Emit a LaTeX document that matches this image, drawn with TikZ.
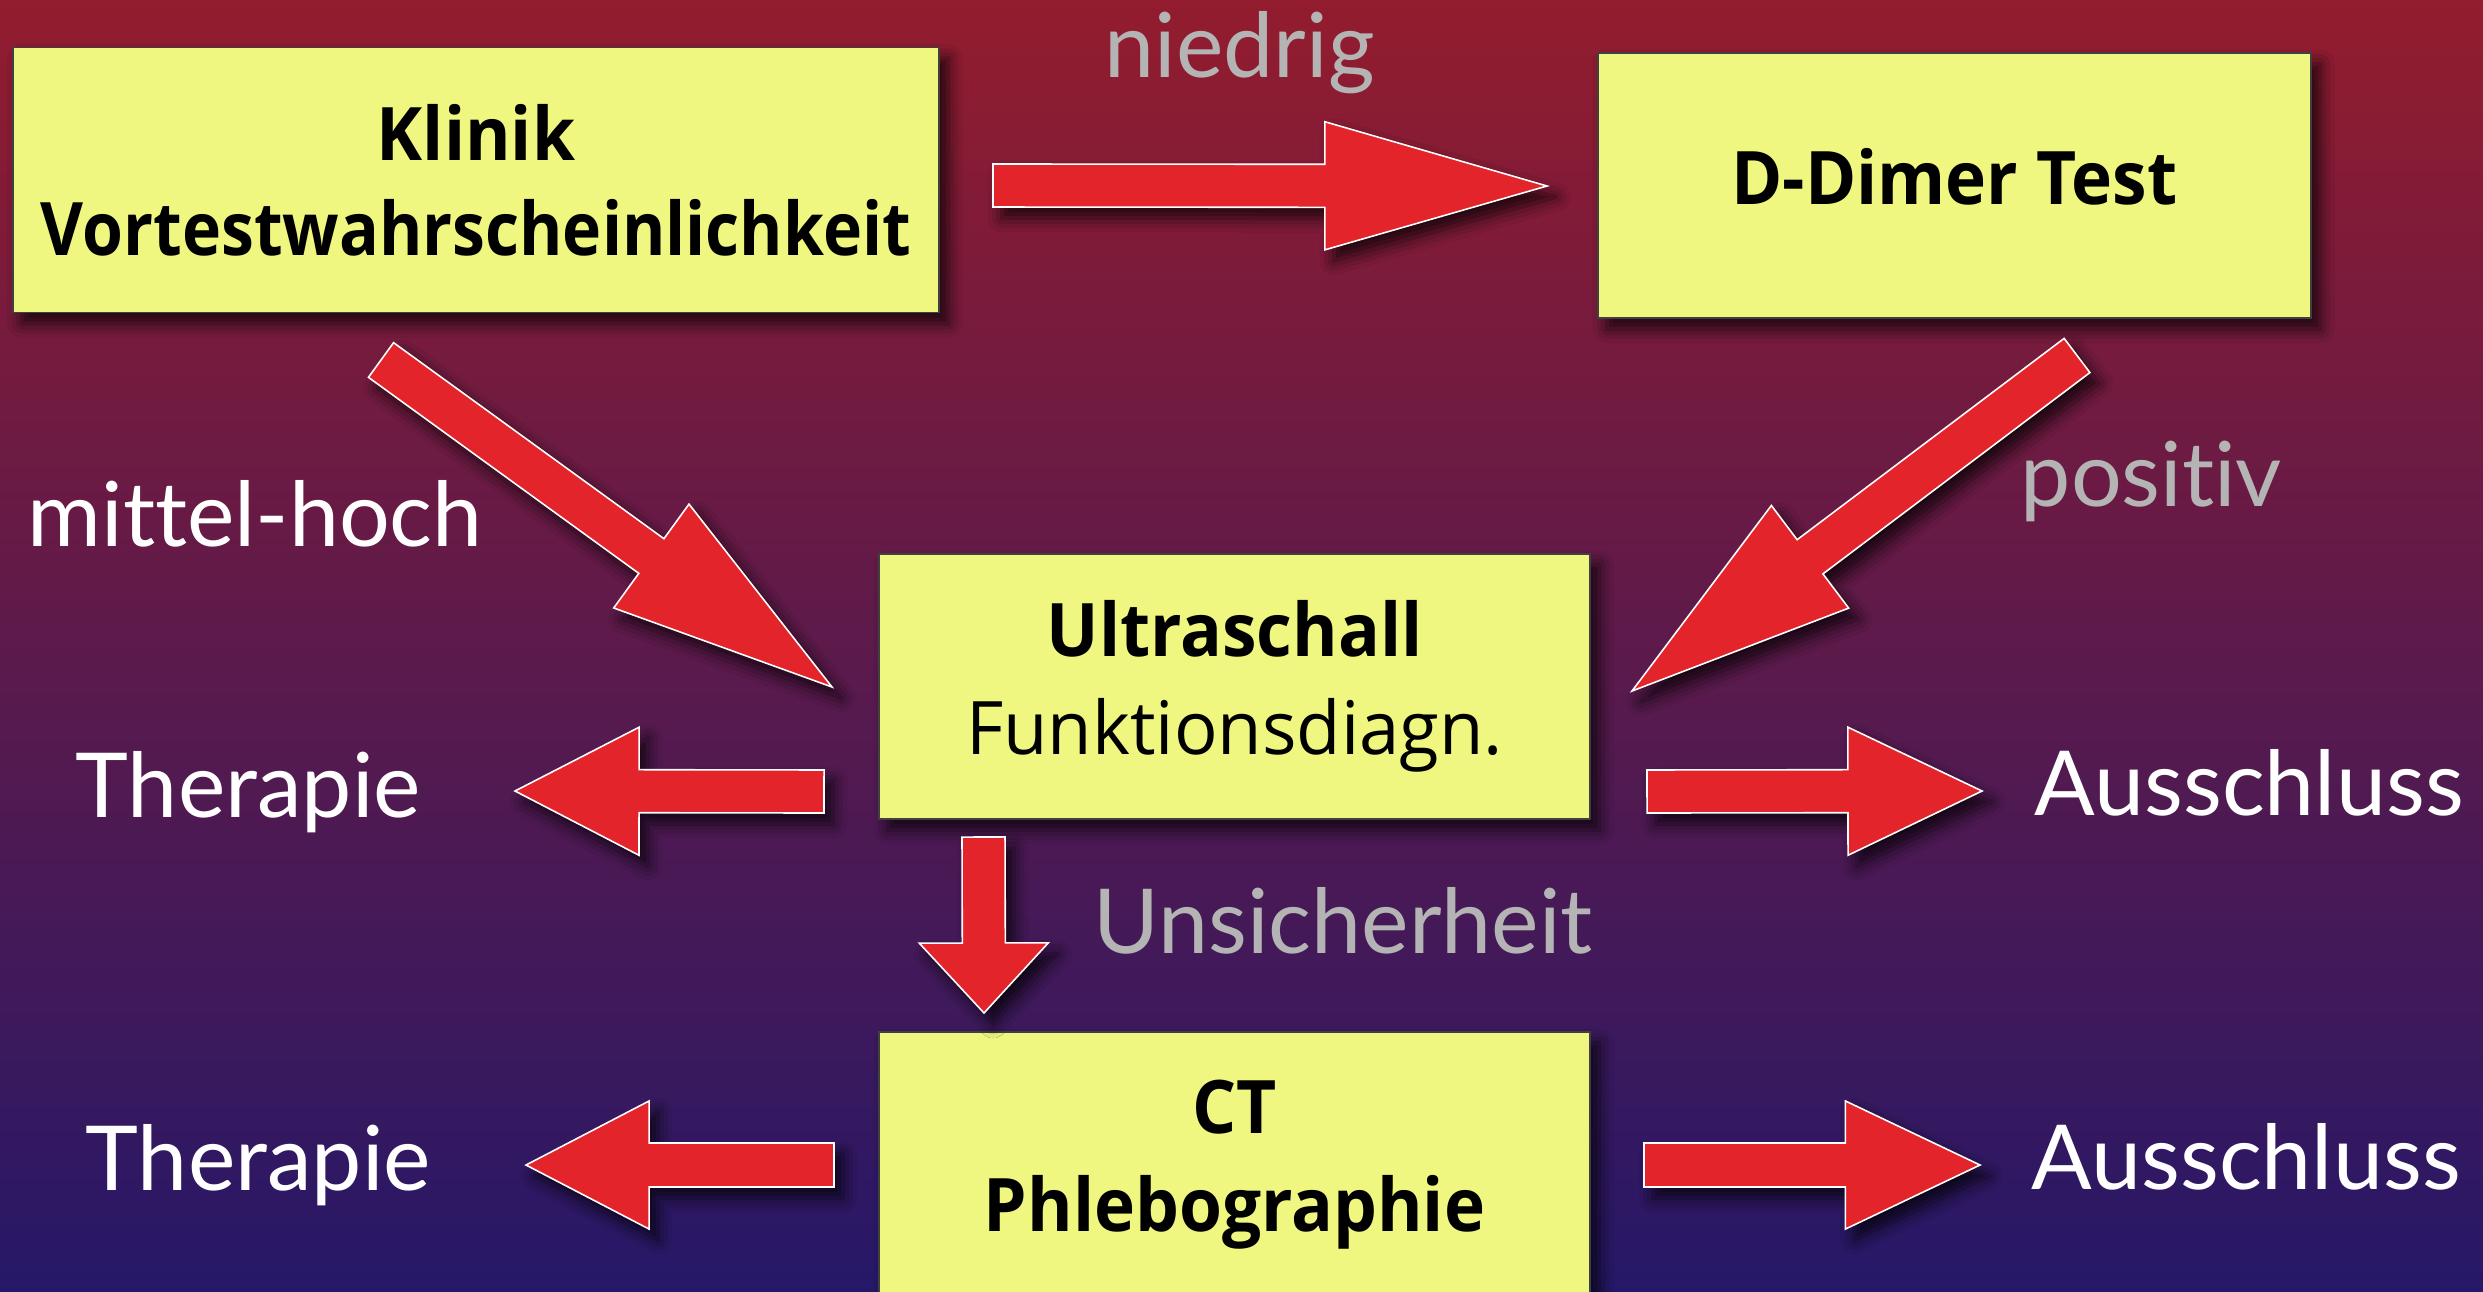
\documentclass[tikz,border=0pt]{standalone}
\usepackage{fontspec}
\usetikzlibrary{calc,shadows.blur}
\newfontfamily\lblfont{Lato}[Ligatures={NoCommon}]
\newfontfamily\bxbold{Open Sans Bold}[FakeStretch=0.94]
\newfontfamily\bxboldn{Open Sans Bold}[FakeStretch=0.895]
\newfontfamily\bxreg{Open Sans}[FakeStretch=0.98]
\definecolor{bgtop}{RGB}{147,28,46}
\definecolor{bgmid}{RGB}{108,26,74}
\definecolor{bgbot}{RGB}{38,24,104}
\definecolor{boxfill}{RGB}{240,247,128}
\definecolor{arrred}{RGB}{227,36,43}
\definecolor{lblgray}{RGB}{180,180,180}
\tikzset{
  myshadow/.style={blur shadow={shadow xshift=0.09cm, shadow yshift=-0.11cm, shadow blur radius=0.14cm, shadow opacity=75}},
  stepbox/.style={draw=black!75, line width=0.5pt, fill=boxfill, inner sep=0pt,
    minimum height=2.65cm, align=center, myshadow},
  arrowshape/.style={fill=arrred, draw=white, line width=0.45pt, line join=miter, myshadow},
  wlabel/.style={inner sep=0pt, anchor=base west, text=white, font=\lblfont\fontsize{25.5}{30}\selectfont},
  glabel/.style={wlabel, text=lblgray},
}
% tail, tip, shaft half width, head half width, head length
\newcommand\blockarrow[5]{%
  \coordinate (ba-h) at ($(#2)!#5!(#1)$);
  \draw[arrowshape] ($(#1)!#3!90:(#2)$) -- ($(ba-h)!#3!90:(#2)$) -- ($(ba-h)!#4!90:(#2)$)
    -- (#2) -- ($(ba-h)!#4!-90:(#2)$) -- ($(ba-h)!#3!-90:(#2)$) -- ($(#1)!#3!-90:(#2)$) -- cycle;
}
\begin{document}
\begin{tikzpicture}[x=0.01cm,y=-0.01cm]
\useasboundingbox (0,0) rectangle (2483,1291);
\shade[top color=bgtop, middle color=bgmid, bottom color=bgbot] (0,0) rectangle (2483,1291);

% boxes
\node[stepbox, minimum width=9.26cm, font=\bxbold\fontsize{21}{27}\selectfont] (klinik) at (476,180)
  {Klinik\\\bxboldn Vortestwahrscheinlichkeit};
\node[stepbox, minimum width=7.13cm, font=\bxbold\fontsize{21}{27}\selectfont] (ddimer) at (1954.5,185.5)
  {D-Dimer Test\vphantom{g}};
\node[stepbox, minimum width=7.11cm, font=\bxbold\fontsize{21}{28}\selectfont] (ultra) at (1234.5,686.5)
  {Ultraschall\\\bxreg Funktionsdiagn.};
\node[stepbox, minimum width=7.11cm, font=\bxbold\fontsize{21}{28}\selectfont] (ct) at (1234.5,1164.5)
  {CT\\Phlebographie};

% labels
\node[glabel] (lniedrig) at (1104,78) {niedrig};
\node[wlabel] (lmittel) at (27,546) {mittel-hoch};
\node[glabel] (lpositiv) at (2020,506) {positiv};
\node[glabel] (lunsicher) at (1093,953) {Unsicherheit};
\node[wlabel] (th1) at (75,817) {Therapie};
\node[wlabel] (th2) at (85,1190) {Therapie};
\node[wlabel] (au1) at (2034,815) {Ausschluss};
\node[wlabel] (au2) at (2031,1189) {Ausschluss};

% arrow end points
\coordinate (k2d-s) at (993,185.5);   \coordinate (k2d-e) at (1547,186);
\coordinate (k2u-s) at (381,360);     \coordinate (k2u-e) at (832,687);
\coordinate (d2u-s) at (2077,355.5);  \coordinate (d2u-e) at (1632,691);
\coordinate (u2t-s) at (824,791.5);   \coordinate (u2t-e) at (515,791);
\coordinate (u2a-s) at (1647,791.5);  \coordinate (u2a-e) at (1982,791);
\coordinate (u2c-s) at (983.5,837);   \coordinate (u2c-e) at (984,1013);
\coordinate (c2t-s) at (834,1165);    \coordinate (c2t-e) at (526,1165);
\coordinate (c2a-s) at (1644,1165);   \coordinate (c2a-e) at (1980,1165);

\blockarrow{k2d-s}{k2d-e}{0.215cm}{0.64cm}{2.22cm}
\blockarrow{k2u-s}{k2u-e}{0.214cm}{0.641cm}{2.23cm}
\blockarrow{d2u-s}{d2u-e}{0.214cm}{0.642cm}{2.228cm}
\blockarrow{u2t-s}{u2t-e}{0.215cm}{0.64cm}{1.24cm}
\blockarrow{u2a-s}{u2a-e}{0.215cm}{0.64cm}{1.34cm}
\blockarrow{u2c-s}{u2c-e}{0.215cm}{0.645cm}{0.70cm}
\blockarrow{c2t-s}{c2t-e}{0.22cm}{0.64cm}{1.23cm}
\blockarrow{c2a-s}{c2a-e}{0.22cm}{0.64cm}{1.345cm}
\end{tikzpicture}
\end{document}
